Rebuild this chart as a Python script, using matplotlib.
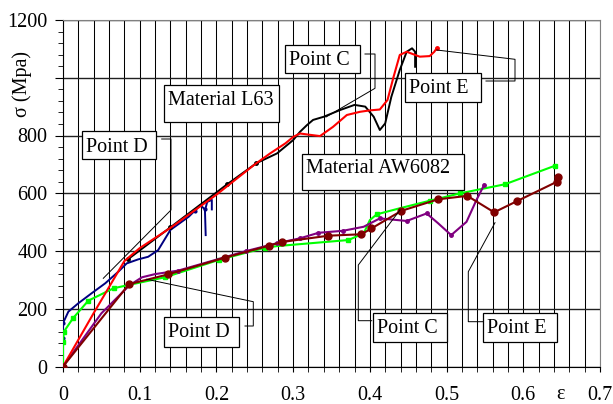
import matplotlib
matplotlib.use("Agg")
import matplotlib.pyplot as plt
from matplotlib.ticker import MultipleLocator

plt.rcParams["font.family"] = ["Liberation Serif", "DejaVu Serif"]
plt.rcParams["font.size"] = 14.5

# --- data (strain, stress in MPa) ---
l63_red_x = [0, 0.04, 0.08, 0.10, 0.14, 0.20, 0.25, 0.27, 0.29, 0.30, 0.309, 0.32, 0.335,
             0.352, 0.37, 0.387, 0.40, 0.413, 0.423, 0.431, 0.439, 0.448, 0.465, 0.478, 0.484, 0.487]
l63_red_y = [0, 185, 365, 410, 480, 595, 700, 738, 773, 795, 807, 803, 798,
             830, 871, 882, 887, 890, 923, 1004, 1079, 1090, 1073, 1075, 1090, 1102]

l63_black_x = [0.085, 0.14, 0.214, 0.252, 0.279, 0.30, 0.309, 0.318, 0.326, 0.34, 0.361, 0.38,
               0.394, 0.405, 0.413, 0.42, 0.428, 0.439, 0.448, 0.455, 0.459, 0.459]
l63_black_y = [372, 482, 631, 704, 738, 784, 813, 836, 854, 865, 888, 906,
               900, 865, 819, 842, 934, 1027, 1090, 1102, 1090, 1038]

blue_x = [0, 0, 0.007, 0.02, 0.037, 0.055, 0.072, 0.083, 0.098, 0.111, 0.124, 0.14,
          0.164, 0.172, 0.179, 0.185, 0.186]
blue_y = [100, 150, 190, 219, 253, 288, 328, 357, 371, 380, 403, 473,
          519, 540, 559, 544, 455]
blue_hook_x = [0.186, 0.188, 0.194, 0.194]
blue_hook_y = [550, 570, 577, 544]

aw_green_x = [0, 0, 0.001, 0.013, 0.033, 0.066, 0.085, 0.133, 0.203, 0.263, 0.279, 0.372,
              0.392, 0.40, 0.409, 0.439, 0.478, 0.518, 0.576, 0.641]
aw_green_y = [0, 86, 120, 167, 228, 271, 282, 309, 369, 411, 417, 438,
              461, 507, 527, 548, 574, 600, 631, 695]
green_marks = [1, 2, 3, 4, 5, 7, 8, 9, 11, 14, 16, 17, 18, 19]

aw_purple_x = [0, 0.05, 0.087, 0.103, 0.12, 0.15, 0.196, 0.239, 0.279, 0.309, 0.333, 0.365,
               0.392, 0.413, 0.448, 0.474, 0.489, 0.506, 0.526, 0.539, 0.549]
aw_purple_y = [0, 184, 282, 309, 320, 332, 367, 400, 427, 444, 463, 470,
               484, 513, 504, 530, 496, 455, 501, 577, 629]
purple_marks = [5, 7, 8, 9, 10, 11, 13, 14, 15, 17, 20]

aw_maroon_x = [0, 0.086, 0.137, 0.211, 0.268, 0.285, 0.346, 0.389, 0.402, 0.441, 0.489,
               0.527, 0.562, 0.592, 0.644, 0.645]
aw_maroon_y = [0, 285, 319, 377, 418, 431, 453, 458, 478, 539, 579,
               591, 534, 573, 640, 655]

x_ticks = [0, 0.1, 0.2, 0.3, 0.4, 0.5, 0.6, 0.7]
x_labels = ["0", "0.1", "0.2", "0.3", "0.4", "0.5", "0.6", "0.7"]
y_ticks = [0, 200, 400, 600, 800, 1000, 1200]
y_labels = ["0", "200", "400", "600", "800", "", "1200"]

W, H = 613, 404
fig = plt.figure(figsize=(W / 100, H / 100), dpi=100)
x0, x1, yt, yb = 63, 600, 20, 366.5
ax = fig.add_axes([x0 / W, 1 - yb / H, (x1 - x0) / W, (yb - yt) / H])
ax.set_xlim(0, 0.7)
ax.set_ylim(0, 1200)


def px(x, y):
    # pixel position in the picture -> data coordinates
    return (x - x0) / (x1 - x0) * 0.7, (yb - y) / (yb - yt) * 1200


# grid
ax.xaxis.set_minor_locator(MultipleLocator(0.02))
ax.yaxis.set_minor_locator(MultipleLocator(40))
ax.grid(axis="x", which="minor", color="black", lw=0.75)
ax.grid(axis="x", which="major", color="black", lw=0.75)
ax.grid(axis="y", which="major", color="#202020", lw=1.0)
ax.set_axisbelow(True)

ax.set_xticks(x_ticks, x_labels)
ax.set_yticks(y_ticks, y_labels)
ax.tick_params(which="both", direction="out")
ax.tick_params(axis="x", which="both", length=3.5, pad=10.5)
ax.tick_params(axis="y", which="major", length=6, pad=5)
ax.tick_params(axis="y", which="minor", length=3.5)
for s in ["top", "right"]:
    ax.spines[s].set_color("#808080")

# curves
ax.plot(blue_x, blue_y, color="#000080", lw=1.4, marker="o", ms=2,
        markevery=[0, 1, 13, 15], zorder=3)
ax.plot(blue_hook_x, blue_hook_y, color="#000080", lw=1.4, zorder=3)
ax.plot(l63_black_x, l63_black_y, color="black", lw=1.4, marker="o", ms=2.5,
        markevery=[0, 1, 2, 3], zorder=4)
ax.plot(l63_red_x, l63_red_y, color="#ff0000", lw=1.5, marker="o", ms=2.5,
        markevery=[len(l63_red_x) - 1], zorder=5)
ax.plot(aw_green_x, aw_green_y, color="#00ff00", lw=1.5, marker="s", ms=3,
        markevery=green_marks, zorder=3)
ax.plot(aw_purple_x, aw_purple_y, color="#800080", lw=1.5, marker="o", ms=2.5,
        markevery=purple_marks, zorder=4)
ax.plot(aw_maroon_x, aw_maroon_y, color="#800000", lw=1.5, marker="o", ms=5, zorder=5)

# annotation boxes (pixel layout) and leader lines
boxes = [
    ("Material L63", (164.3, 85, 279.3, 121.7), 105),
    ("Point D", (81.7, 130.7, 156, 159), 151.5),
    ("Point C", (285, 45, 360, 73.3), 65),
    ("Point E", (405, 73.3, 480.7, 101.7), 93.3),
    ("Material AW6082", (301.7, 154, 464, 190), 173),
    ("Point D", (164, 317.3, 239.3, 346.7), 337.3),
    ("Point C", (372.7, 312.7, 447.3, 341.7), 332.7),
    ("Point E", (483.3, 312.7, 557.3, 341.7), 332.7),
]
for label, (bx0, by0, bx1, by1), base in boxes:
    (dx0, dy0), (dx1, dy1) = px(bx0, by1), px(bx1, by0)
    ax.add_patch(plt.Rectangle((dx0, dy0), dx1 - dx0, dy1 - dy0, facecolor="white",
                               edgecolor="black", lw=0.9, zorder=6))
    tx, ty = px(bx0 + 4, base)
    ax.text(tx, ty, label, ha="left", va="baseline", zorder=7)

leaders = [
    [(161.7, 139), (171, 139), (171, 210), (103.3, 278.3)],
    [(365, 54), (375, 54), (375, 88.3), (326, 117)],
    [(486, 81), (515, 81), (515, 59.3), (436.7, 50)],
    [(245, 326), (253.3, 326), (253.3, 301.7), (146.7, 279.3)],
    [(371.7, 320.7), (358.3, 320.7), (358.3, 265), (400, 210)],
    [(482.7, 321.7), (468.3, 321.7), (468.3, 271.7), (495, 222.7)],
]
for pts in leaders:
    d = [px(a, b) for a, b in pts]
    ax.plot([p[0] for p in d], [p[1] for p in d], color="black", lw=0.7, zorder=6)

fig.text(22 / W, 1 - 84 / H, "σ (Mpa)", rotation=90, ha="center", va="center")
ax.text(0.648, -0.082, "ε", transform=ax.get_xaxis_transform(), ha="center", va="center")

fig.savefig("out.png", dpi=100)
